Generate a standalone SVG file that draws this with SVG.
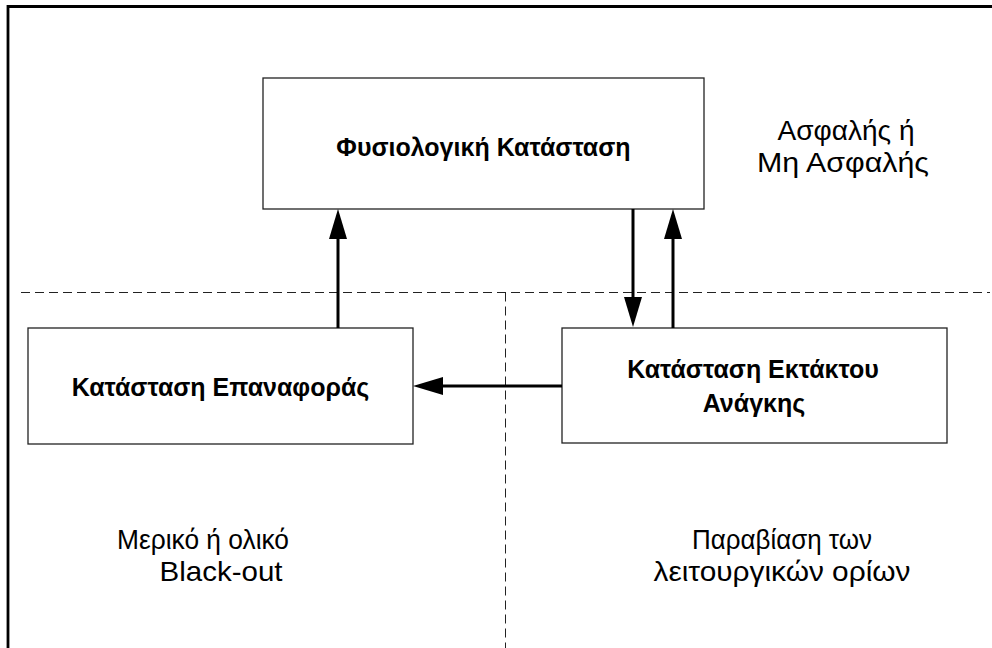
<svg xmlns="http://www.w3.org/2000/svg" width="992" height="648" viewBox="0 0 992 648">
  <style>
    .box { fill: #ffffff; stroke: #222222; stroke-width: 1.3; }
    .title { font-family: "Liberation Sans", Arial, sans-serif; font-weight: bold; font-size: 25px; fill: #000000; text-anchor: middle; }
    .note { font-family: "Liberation Sans", Arial, sans-serif; font-size: 28px; fill: #000000; text-anchor: middle; }
    .zone { fill: none; stroke: #222222; stroke-width: 1; stroke-dasharray: 9 5; }
    .link { fill: none; stroke: #000000; stroke-width: 3; marker-end: url(#head); }
  </style>
  <defs>
    <marker id="head" markerUnits="userSpaceOnUse" markerWidth="30" markerHeight="18" refX="0" refY="9" orient="auto" viewBox="0 0 30 18">
      <path d="M0,0 L30,9 L0,18 Z" fill="#000000"/>
    </marker>
  </defs>

  <rect x="0" y="0" width="992" height="648" fill="#ffffff"/>

  <!-- frame -->
  <path d="M8,652 V6.5 H996" fill="none" stroke="#000000" stroke-width="2.8"/>

  <!-- zone boundaries -->
  <g id="zones">
    <line class="zone" x1="21" y1="292.5" x2="990" y2="292.5"/>
    <line class="zone" x1="505.5" y1="292.5" x2="505.5" y2="650"/>
  </g>

  <!-- zone labels -->
  <g id="zone-labels">
    <text class="note" x="846" y="140" textLength="137" lengthAdjust="spacingAndGlyphs">Ασφαλής ή</text>
    <text class="note" x="843" y="172" textLength="172" lengthAdjust="spacingAndGlyphs">Μη Ασφαλής</text>
    <text class="note" x="203" y="549" textLength="172" lengthAdjust="spacingAndGlyphs">Μερικό ή ολικό</text>
    <text class="note" x="221" y="581" textLength="123" lengthAdjust="spacingAndGlyphs">Black-out</text>
    <text class="note" x="782" y="549" textLength="180" lengthAdjust="spacingAndGlyphs">Παραβίαση των</text>
    <text class="note" x="782" y="581" textLength="257" lengthAdjust="spacingAndGlyphs">λειτουργικών ορίων</text>
  </g>

  <g id="normal">
    <rect class="box" x="263" y="78" width="441" height="131"/>
    <text class="title" x="483.5" y="156">Φυσιολογική Κατάσταση</text>
  </g>

  <g id="restoration">
    <rect class="box" x="28" y="328" width="385" height="116"/>
    <text class="title" x="220.5" y="396">Κατάσταση Επαναφοράς</text>
  </g>

  <g id="emergency">
    <rect class="box" x="562" y="328" width="385" height="115"/>
    <text class="title" x="753" y="378">Κατάσταση Εκτάκτου</text>
    <text class="title" x="754" y="412">Ανάγκης</text>
  </g>

  <g id="connectors">
    <line class="link" x1="338" y1="328" x2="338" y2="239"/>
    <line class="link" x1="633" y1="209" x2="633" y2="297"/>
    <line class="link" x1="673" y1="328" x2="673" y2="239"/>
    <line class="link" x1="562" y1="386" x2="443" y2="386"/>
  </g>
</svg>
